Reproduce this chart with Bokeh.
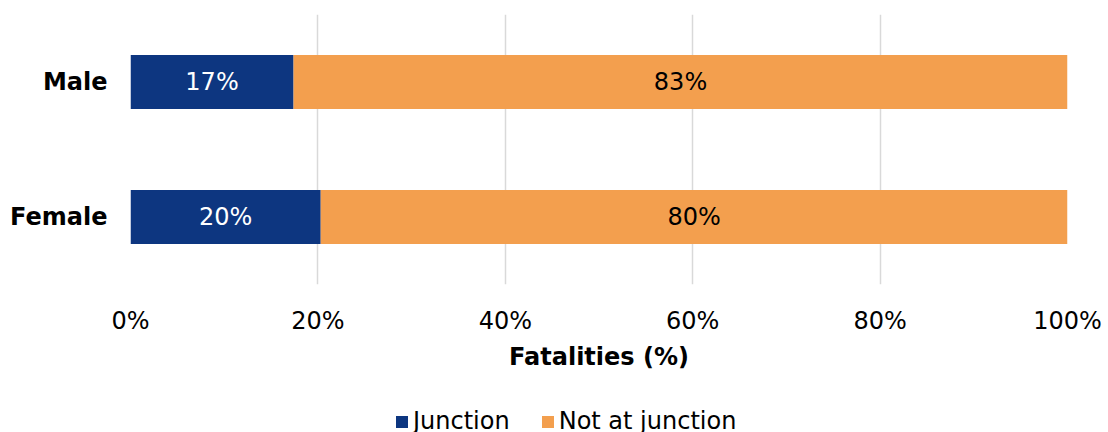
from bokeh.plotting import figure
from bokeh.layouts import column
from bokeh.models import ColumnDataSource, FactorRange, Range1d, Legend, LegendItem, NumeralTickFormatter, FixedTicker
from bokeh.core.properties import value
from bokeh.embed import file_html
from bokeh.resources import INLINE

categories = ["Male", "Female"]
junction = [17.4, 20.3]
not_at_junction = [82.6, 79.7]
series_names = ["Junction", "Not at junction"]
x_ticks = [0, 20, 40, 60, 80, 100]

BLUE = "#0d3680"
ORANGE = "#f39f4e"
COLORS = [BLUE, ORANGE]
FONT = "DejaVu Sans"

src = ColumnDataSource(dict(
    cat=categories,
    j=junction,
    n=not_at_junction,
    j_mid=[v / 2 for v in junction],
    n_mid=[a + b / 2 for a, b in zip(junction, not_at_junction)],
    j_lab=[f"{round(v)}%" for v in junction],
    n_lab=[f"{round(v)}%" for v in not_at_junction],
))

p = figure(width=1108, height=372, frame_width=937, frame_height=270,
           output_backend="svg", toolbar_location=None,
           y_range=FactorRange(*list(reversed(categories)), range_padding=0),
           x_range=Range1d(0, 100),
           min_border_left=130, min_border_right=41, min_border_top=14, min_border_bottom=88)

r = p.hbar_stack(["j", "n"], y="cat", height=0.4, color=COLORS, source=src, line_width=0)

p.text(x="j_mid", y="cat", text="j_lab", source=src, text_align="center", text_baseline="middle",
       text_color="white", text_font=value(FONT), text_font_size="24px")
p.text(x="n_mid", y="cat", text="n_lab", source=src, text_align="center", text_baseline="middle",
       text_color="black", text_font=value(FONT), text_font_size="24px")

p.outline_line_color = None
p.ygrid.grid_line_color = None
p.xgrid.grid_line_color = "#d9d9d9"
p.xgrid.grid_line_width = 1.5
p.xaxis.ticker = FixedTicker(ticks=x_ticks)
p.xaxis.formatter = NumeralTickFormatter(format="0")
p.xaxis.major_label_overrides = {t: f"{t}%" for t in x_ticks}
p.xaxis.axis_line_color = None
p.xaxis.major_tick_line_color = None
p.xaxis.minor_tick_line_color = None
p.xaxis.major_tick_out = 0
p.xaxis.major_label_standoff = 22
p.xaxis.major_label_text_font = FONT
p.xaxis.major_label_text_font_size = "24px"
p.xaxis.major_label_text_color = "black"
p.xaxis.axis_label = "Fatalities (%)"
p.xaxis.axis_label_text_font = FONT
p.xaxis.axis_label_text_font_size = "24px"
p.xaxis.axis_label_text_font_style = "bold"
p.xaxis.axis_label_text_color = "black"
p.xaxis.axis_label_standoff = 5

p.yaxis.axis_line_color = None
p.yaxis.major_tick_line_color = None
p.yaxis.major_tick_out = 0
p.yaxis.major_label_standoff = 23
p.yaxis.major_label_text_font = FONT
p.yaxis.major_label_text_font_size = "24px"
p.yaxis.major_label_text_font_style = "bold"
p.yaxis.major_label_text_color = "black"

# Legend strip below the chart (frame is aligned with the chart frame by the column layout)
p2 = figure(width=1108, height=60, output_backend="svg", toolbar_location=None,
            x_range=Range1d(0, 1), y_range=Range1d(0, 1),
            min_border_left=0, min_border_right=0, min_border_top=0, min_border_bottom=0)
p2.axis.visible = False
p2.grid.visible = False
p2.outline_line_color = None
nan = float("nan")
dummies = [p2.hbar(y=[nan], right=[nan], height=0.4, color=c, line_width=0) for c in COLORS]
legend = Legend(items=[LegendItem(label=series_names[i], renderers=[dummies[i]], index=0) for i in range(2)],
                orientation="horizontal", location=(264, -2),
                label_text_font=FONT, label_text_font_size="24px", label_text_color="black",
                glyph_width=15, glyph_height=15, label_standoff=4, spacing=30,
                border_line_color=None, background_fill_alpha=0, padding=0, margin=0)
p2.add_layout(legend, "center")

layout = column(p, p2, spacing=0)
open("out.html", "w").write(file_html(layout, INLINE))
